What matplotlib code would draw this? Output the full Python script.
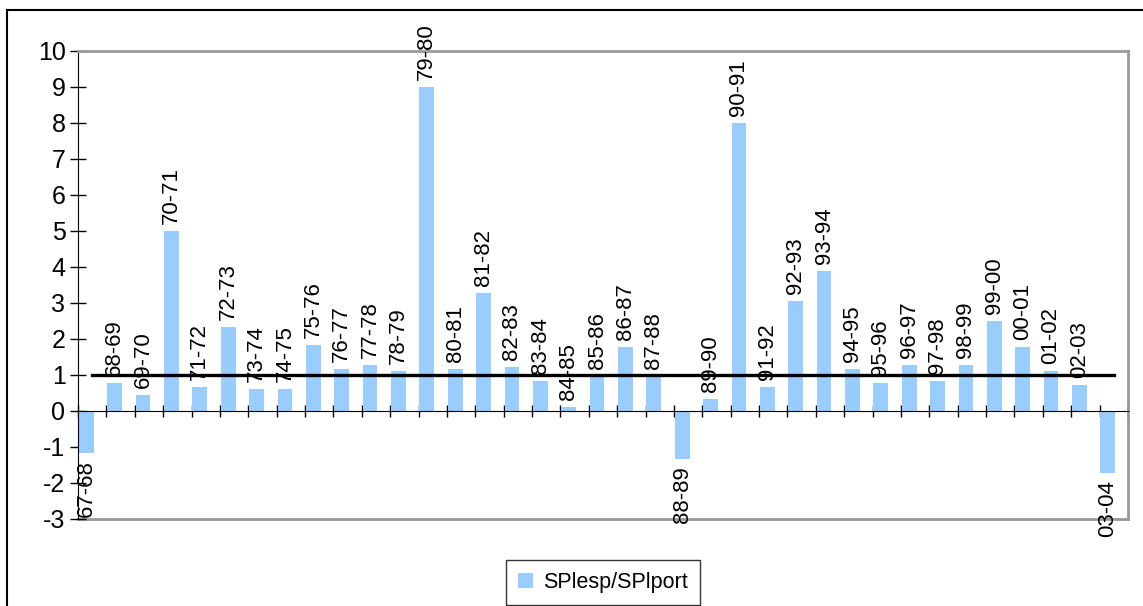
import numpy as np
import matplotlib
matplotlib.use("Agg")
import matplotlib.pyplot as plt
from matplotlib.lines import Line2D

plt.rcParams['font.family'] = ['Liberation Sans', 'DejaVu Sans']
plt.rcParams['axes.unicode_minus'] = False

# data
periods = ["67-68", "68-69", "69-70", "70-71", "71-72", "72-73", "73-74", "74-75",
           "75-76", "76-77", "77-78", "78-79", "79-80", "80-81", "81-82", "82-83",
           "83-84", "84-85", "85-86", "86-87", "87-88", "88-89", "89-90", "90-91",
           "91-92", "92-93", "93-94", "94-95", "95-96", "96-97", "97-98", "98-99",
           "99-00", "00-01", "01-02", "02-03", "03-04"]
ratio = [-1.18, 0.79, 0.44, 5.0, 0.68, 2.34, 0.61, 0.61,
         1.84, 1.17, 1.28, 1.11, 9.0, 1.17, 3.28, 1.22,
         0.83, 0.11, 0.98, 1.78, 0.97, -1.34, 0.33, 8.0,
         0.67, 3.06, 3.89, 1.17, 0.78, 1.28, 0.83, 1.28,
         2.5, 1.78, 1.11, 0.72, -1.73]
reference = [1.0] * len(periods)
series_name = "SPlesp/SPlport"
y_ticks = list(range(-3, 11))

bar_color = "#99CCFF"
x = np.arange(len(periods))

fig = plt.figure(figsize=(11.43, 6.06), dpi=100)
ax = fig.add_axes([78/1143, 87/606, 1050/1143, 468/606])

bars = ax.bar(x - 0.21, ratio, width=0.52, color=bar_color, label=series_name, zorder=2)
ax.plot(x, reference, color="black", lw=2.4, zorder=3)

for xi, v, lab in zip(x, ratio, periods):
    if v >= 0:
        ax.annotate(lab, (xi - 0.21, v), xytext=(0, 5), textcoords="offset points",
                    rotation=90, ha="center", va="bottom", fontsize=16, zorder=4,
                    annotation_clip=False)
    else:
        ax.annotate(lab, (xi - 0.21, v), xytext=(0, -5), textcoords="offset points",
                    rotation=90, ha="center", va="top", fontsize=16, zorder=4,
                    annotation_clip=False)

ax.set_xlim(-0.5, len(periods) - 0.5)
ax.set_ylim(-3, 10)
ax.set_yticks(y_ticks)
ax.tick_params(axis="y", direction="inout", length=12, width=1, labelsize=18, pad=3)
ax.set_xticks(np.arange(-0.5, len(periods)))
ax.tick_params(axis="x", direction="inout", length=9, width=1, labelbottom=False)

ax.spines["bottom"].set_position(("data", 0))
ax.spines["bottom"].set_zorder(5)
for s in ["top", "right"]:
    ax.spines[s].set_color("#999999")
    ax.spines[s].set_linewidth(2)
ax.axhline(-3, color="#999999", lw=2, zorder=1, clip_on=False)

leg = ax.legend(loc="lower center", bbox_to_anchor=(0.5, -0.183), fontsize=15.5,
                frameon=True, fancybox=False, handlelength=0.7, handleheight=0.7,
                handletextpad=0.5, borderpad=0.55, borderaxespad=0)
leg.get_frame().set_edgecolor("black")
leg.get_frame().set_linewidth(1)

# outer chart border (top and left edges visible)
fig.add_artist(Line2D([7/1143, 1.0], [1 - 10/606, 1 - 10/606], color="black", lw=1.5,
                      transform=fig.transFigure))
fig.add_artist(Line2D([7/1143, 7/1143], [0.0, 1 - 10/606], color="black", lw=1.5,
                      transform=fig.transFigure))

fig.savefig("out.png", dpi=100)
